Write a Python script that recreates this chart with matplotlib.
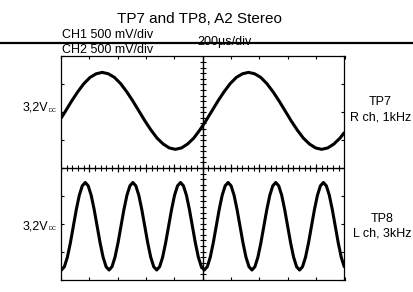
import numpy as np
import matplotlib
matplotlib.use("Agg")
import matplotlib.pyplot as plt
from matplotlib.lines import Line2D

plt.rcParams['font.family'] = ['Liberation Sans', 'DejaVu Sans']

# scope traces, time in microseconds (200 us/div), level in divisions
tp7_t = [0, 33, 76, 119, 162, 205, 248, 291, 334, 377, 420, 463, 506, 549,
         592, 635, 678, 721, 764, 807, 850, 893, 936, 979, 1022, 1065, 1108,
         1151, 1194, 1237, 1280, 1323, 1366, 1409, 1452, 1495, 1538, 1581,
         1624, 1667, 1710, 1753, 1796, 1839, 1882, 1925, 1968, 2000]
tp7_v = [1.78, 2.05, 2.41, 2.74, 3.03, 3.25, 3.38, 3.43, 3.38, 3.25, 3.03,
         2.74, 2.41, 2.05, 1.69, 1.36, 1.07, 0.86, 0.72, 0.67, 0.72, 0.86,
         1.07, 1.36, 1.69, 2.05, 2.41, 2.74, 3.03, 3.25, 3.38, 3.43, 3.38,
         3.25, 3.03, 2.74, 2.41, 2.05, 1.69, 1.36, 1.07, 0.86, 0.72, 0.67,
         0.72, 0.86, 1.07, 1.28]

tp8_t = [0, 3, 24, 45, 66, 87, 108, 129, 150, 171, 192, 213, 234, 255, 276,
         297, 318, 339, 360, 381, 402, 423, 444, 465, 486, 507, 528, 549, 570,
         591, 612, 633, 654, 675, 696, 717, 738, 759, 780, 801, 822, 843, 864,
         885, 906, 927, 948, 969, 990, 1011, 1032, 1053, 1074, 1095, 1116,
         1137, 1158, 1179, 1200, 1221, 1242, 1263, 1284, 1305, 1326, 1347,
         1368, 1389, 1410, 1431, 1452, 1473, 1494, 1515, 1536, 1557, 1578,
         1599, 1620, 1641, 1662, 1683, 1704, 1725, 1746, 1767, 1788, 1809,
         1830, 1851, 1872, 1893, 1914, 1935, 1956, 1977, 1998, 2000]
tp8_v = [-3.66,
         -3.66, -3.54, -3.20, -2.69, -2.09, -1.49, -0.98, -0.64,
         -0.52, -0.64, -0.98, -1.49, -2.09, -2.69, -3.20, -3.54,
         -3.66, -3.54, -3.20, -2.69, -2.09, -1.49, -0.98, -0.64,
         -0.52, -0.64, -0.98, -1.49, -2.09, -2.69, -3.20, -3.54,
         -3.66, -3.54, -3.20, -2.69, -2.09, -1.49, -0.98, -0.64,
         -0.52, -0.64, -0.98, -1.49, -2.09, -2.69, -3.20, -3.54,
         -3.66, -3.54, -3.20, -2.69, -2.09, -1.49, -0.98, -0.64,
         -0.52, -0.64, -0.98, -1.49, -2.09, -2.69, -3.20, -3.54,
         -3.66, -3.54, -3.20, -2.69, -2.09, -1.49, -0.98, -0.64,
         -0.52, -0.64, -0.98, -1.49, -2.09, -2.69, -3.20, -3.54,
         -3.66, -3.54, -3.20, -2.69, -2.09, -1.49, -0.98, -0.64,
         -0.52, -0.64, -0.98, -1.49, -2.09, -2.69, -3.20, -3.54,
         -3.57]

W, H = 414, 292


def fx(px):
    return px / W


def fy(py):
    return 1 - py / H


fig = plt.figure(figsize=(W / 100, H / 100), dpi=100)
ax = fig.add_axes([fx(61), fy(279.5), (344.5 - 61) / W, (279.5 - 56.5) / H])
ax.set_xlim(0, 2000)
ax.set_ylim(-4, 4)
for s in ax.spines.values():
    s.set_linewidth(0.9)

ax.set_xticks(np.arange(0, 2001, 200))
ax.set_yticks(np.arange(-4, 5, 1))
ax.tick_params(direction='in', length=2.5, width=0.8, top=True, right=True,
               labelbottom=False, labelleft=False)

# crosshair with graticule marks
ax.axhline(0, color='k', lw=1)
ax.axvline(1000, color='k', lw=1)
mx = np.arange(0, 2001, 40)
my = np.arange(-4, 4.01, 0.2)
ax.plot(mx, np.zeros_like(mx), ls='none', marker='|', ms=4, mew=0.8, color='k')
ax.plot(np.full_like(my, 1000), my, ls='none', marker='_', ms=4, mew=0.8, color='k')
ax.plot(mx[::5], np.zeros(len(mx[::5])), ls='none', marker='|', ms=6, mew=0.8, color='k')

ax.plot(tp7_t, tp7_v, color='k', lw=2.2, solid_capstyle='butt', clip_on=True)
ax.plot(tp8_t, tp8_v, color='k', lw=2.2, solid_capstyle='butt', clip_on=True)

# texts
fig.text(fx(199), fy(23.3), "TP7 and TP8, A2 Stereo", ha='center', va='baseline', fontsize=11)
fig.text(fx(62), fy(38.3), "CH1 500 mV/div", ha='left', va='baseline', fontsize=9)
fig.text(fx(62), fy(53.3), "CH2 500 mV/div", ha='left', va='baseline', fontsize=9)
fig.text(fx(197), fy(45.5), "200\u00b5s/div", ha='left', va='baseline', fontsize=9)

for base in (110.7, 229.3):
    fig.text(fx(48), fy(base), "3,2V", ha='right', va='baseline', fontsize=9)
    fig.text(fx(48.5), fy(base + 0.8), "DC", ha='left', va='baseline', fontsize=4)

fig.text(fx(380), fy(105), "TP7", ha='center', va='baseline', fontsize=9)
fig.text(fx(381), fy(120), "R ch, 1kHz", ha='center', va='baseline', fontsize=9)
fig.text(fx(382), fy(221.7), "TP8", ha='center', va='baseline', fontsize=9)
fig.text(fx(382), fy(236.7), "L ch, 3kHz", ha='center', va='baseline', fontsize=9)

# rule across the header
fig.add_artist(Line2D([0, 1], [fy(43.3), fy(43.3)], transform=fig.transFigure,
                      color='k', lw=1.6))

fig.savefig("out.png", dpi=100)
